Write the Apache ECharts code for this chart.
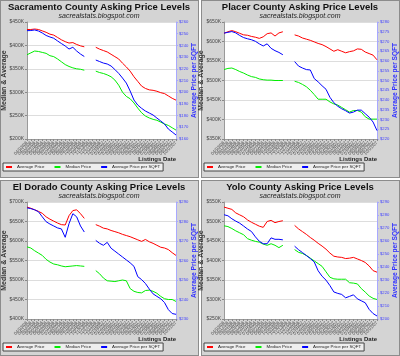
<!DOCTYPE html>
<html><head><meta charset="utf-8">
<script src="https://cdn.jsdelivr.net/npm/echarts@6/dist/echarts.min.js"></script>
<style>
html,body{margin:0;padding:0;background:#fff;}
#wrap{position:relative;width:400px;height:356px;}
.pn{position:absolute;background:#d4d4d4;border:1px solid #8c8c8c;box-sizing:border-box;}
#c{position:absolute;left:0;top:0;width:400px;height:356px;}
</style>
</head><body>
<div id="wrap">
<div class="pn" style="left:0;top:0;width:199px;height:178px"></div>
<div class="pn" style="left:201px;top:0;width:199px;height:178px"></div>
<div class="pn" style="left:0;top:180px;width:199px;height:176px"></div>
<div class="pn" style="left:201px;top:180px;width:199px;height:176px"></div>
<div id="c"></div>
</div>
<script>
const dates = ['04/03/06','04/17/06','05/01/06','05/15/06','05/29/06','06/12/06','06/26/06','07/10/06','07/24/06','08/07/06','08/21/06','09/04/06','09/18/06','10/02/06','10/16/06','10/30/06','11/13/06','11/27/06','12/11/06','12/25/06','01/08/07','01/22/07','02/05/07','02/19/07','03/05/07','03/19/07','04/02/07','04/16/07','04/30/07','05/14/07','05/28/07','06/11/07','06/25/07','07/09/07','07/23/07','08/06/07','08/20/07','09/03/07','09/17/07','10/01/07'];

const sacAvg = [434,434,435,434,431,428,424,422,417,412,408,405,406,402,399,397,null,null,396,392,389,386,381,376,371,362,354,345,333,323,313,308,305,304,302,299,297,292,287,283];
const sacMed = [380,384,388,387,385,383,378,376,371,365,359,355,352,350,349,347,null,null,345,342,340,337,333,326,315,300,291,286,277,266,256,249,245,242,240,236,232,229,224,219];
const sacSqft = [252.6,252.7,253.2,252.3,250.6,248.5,247.2,246.1,243.8,241.6,239.5,236.9,238.4,235.2,232.6,230.5,null,null,227.5,226.2,224.9,224.1,222.4,219.4,216.1,212.1,207.8,201,193.3,189,186.2,183.9,182.2,180.5,177.9,175.4,172.8,168.5,166,163.4];

const placerAvg = [621,625,628,625,621,617,616,613,611,608,612,620,622,614,622,625,null,null,617,614,609,606,603,599,595,592,587,581,575,579,575,571,574,576,581,580,573,569,565,553];
const placerMed = [528,531,532,528,523,519,514,510,508,504,502,501,501,500,500,500,null,null,498,495,490,484,475,464,452,452,452,445,440,437,431,425,419,423,423,419,407,401,401,401];
const placerSqft = [274.3,274.7,275.1,274.4,273.1,272,271.4,270.9,270.1,268.8,267.7,268.8,266.5,265.3,264.4,263.2,null,null,259.7,257.4,256.4,255.6,255.4,251,249.3,247.3,245.5,241.4,238.6,236.8,235.5,234.5,233.3,233.8,234.8,234.8,233,231.2,228.7,224.3];

const edAvg = [687,684,680,676,671,662,656,651,646,642,641,665,678,680,670,658,null,null,642,638,633,631,627,624,621,617,614,611,607,603,599,604,598,594,589,584,582,578,570,563];
const edMed = [585,582,575,569,563,553,546,541,539,536,534,535,536,537,536,535,null,null,524,516,505,498,497,496,498,500,498,478,471,468,467,473,474,471,466,458,452,450,450,445];
const edSqft = [287,286.6,286,285,282.4,279.9,278.7,277.7,276.7,276.2,271.9,278.9,284,282.4,277.7,274.6,null,null,270.3,268.8,267.8,269.3,266.3,264.8,263.3,261.8,260.3,258.8,257,251.7,250.2,248.2,245.4,242.9,241.6,240.4,238.4,234.8,232.8,232.4];

const yoloAvg = [537,534,531,522,517,512,504,498,493,488,485,500,503,497,500,502,null,null,490,481,474,467,459,452,444,437,429,419,411,409,408,405,406,408,404,400,395,386,374,370];
const yoloMed = [489,487,482,476,471,466,456,452,449,447,442,439,443,439,433,439,null,null,428,421,418,413,406,399,392,385,371,357,353,352,352,352,343,342,340,328,319,309,303,300];
const yoloSqft = [280.2,279.4,277.1,275.3,273.7,271.5,269.2,267.3,263.2,259.8,257.9,257.9,262.4,261.3,261.3,260.9,null,null,256,253.3,251.1,248.8,246.5,243.9,237.1,232.9,229.9,225.7,220.8,219.7,218.9,216.3,217.4,218.6,215.5,214,212.5,207.4,204.2,202.3];

const titles = ['Sacramento County Asking Price Levels','Placer County Asking Price Levels','El Dorado County Asking Price Levels','Yolo County Asking Price Levels'];
const subtitle = 'sacrealstats.blogspot.com';
const seriesNames = ['Average Price','Median Price','Average Price per SQFT'];
const leftAxisName = 'Median & Average';
const rightAxisName = 'Average Price per SQFT';
const xAxisName = 'Listings Date';

const panels = [
  {avg:sacAvg, med:sacMed, sqft:sacSqft, lmin:200, lmax:450, lint:50, rmin:160, rmax:260, rint:10, col:0, row:0},
  {avg:placerAvg, med:placerMed, sqft:placerSqft, lmin:350, lmax:650, lint:50, rmin:220, rmax:280, rint:5, col:1, row:0},
  {avg:edAvg, med:edMed, sqft:edSqft, lmin:400, lmax:700, lint:50, rmin:230, rmax:290, rint:10, col:0, row:1},
  {avg:yoloAvg, med:yoloMed, sqft:yoloSqft, lmin:250, lmax:550, lint:50, rmin:200, rmax:290, rint:10, col:1, row:1}
];

const colors = ['#ff0000','#00ee00','#0000ff'];
const font = 'Liberation Sans, Arial, sans-serif';
const grid=[], xAxis=[], yAxis=[], series=[], legend=[], graphic=[];

panels.forEach((p,i)=>{
  const ox = p.col*201, oy = p.row*180;
  grid.push({left:ox+23, top:oy+22, width:153, height:117, show:true, backgroundColor:'#ffffff', borderWidth:0});
  xAxis.push({type:'category', gridIndex:i, data:dates, boundaryGap:false,
    axisLine:{lineStyle:{color:'#9a9a9a'}},
    axisTick:{interval:0, length:2, lineStyle:{color:'#888'}},
    axisLabel:{interval:0, rotate:45, fontSize:4.5, color:'#555', margin:3, fontFamily:font},
    splitLine:{show:false}});
  yAxis.push({type:'value', gridIndex:i, position:'left', min:p.lmin, max:p.lmax, interval:p.lint,
    axisLine:{show:true, lineStyle:{color:'#9a9a9a'}},
    axisTick:{show:true, length:2, lineStyle:{color:'#888'}},
    axisLabel:{fontSize:5, color:'#444', margin:3, fontFamily:font, formatter:v=>'$'+v+'K'},
    splitLine:{show:true, lineStyle:{color:'#dddddd', width:1}},
    name:leftAxisName, nameLocation:'middle', nameGap:19, nameRotate:90, nameMoveOverlap:false,
    nameTextStyle:{fontSize:7, fontWeight:'bold', color:'#333', fontFamily:font}});
  yAxis.push({type:'value', gridIndex:i, position:'right', min:p.rmin, max:p.rmax, interval:p.rint,
    axisLine:{show:true, lineStyle:{color:'#a8a8ff'}},
    axisTick:{show:true, length:2, lineStyle:{color:'#a8a8ff'}},
    axisLabel:{fontSize:4.2, color:'#4444ff', margin:3, fontFamily:font, formatter:v=>'$'+v},
    splitLine:{show:false},
    name:rightAxisName, nameLocation:'middle', nameGap:15, nameRotate:90, nameMoveOverlap:false,
    nameTextStyle:{fontSize:6.6, fontWeight:'bold', color:'#3333ff', fontFamily:font}});
  const data=[p.avg,p.med,p.sqft];
  data.forEach((d,k)=>{
    series.push({type:'line', name:seriesNames[k], xAxisIndex:i, yAxisIndex:k===2?2*i+1:2*i,
      data:d, showSymbol:false, connectNulls:false, animation:false,
      lineStyle:{width:1, color:colors[k]}, itemStyle:{color:colors[k]}});
  });
  legend.push({left:ox+3, top:oy+163, orient:'horizontal', data:seriesNames, icon:'rect',
    itemWidth:6, itemHeight:2, itemGap:10, padding:[2,3,2,3],
    backgroundColor:'#eeeeee', borderColor:'#444', borderWidth:1,
    textStyle:{fontSize:4.4, color:'#222', fontFamily:font}});
  graphic.push({type:'text', style:{text:titles[i], x:ox+99, y:oy+7, align:'center', verticalAlign:'middle',
    font:'bold 9.5px '+font, fill:'#111'}});
  graphic.push({type:'text', style:{text:subtitle, x:ox+99, y:oy+16, align:'center', verticalAlign:'middle',
    font:'italic 7px '+font, fill:'#222'}});
  graphic.push({type:'text', style:{text:xAxisName, x:ox+176, y:oy+159, align:'right', verticalAlign:'middle',
    font:'bold 6px '+font, fill:'#222'}});
});

const chart = echarts.init(document.getElementById('c'), null, {renderer:'canvas'});
chart.setOption({backgroundColor:'transparent', animation:false, grid, xAxis, yAxis, series, legend, graphic});
</script>
</body></html>
